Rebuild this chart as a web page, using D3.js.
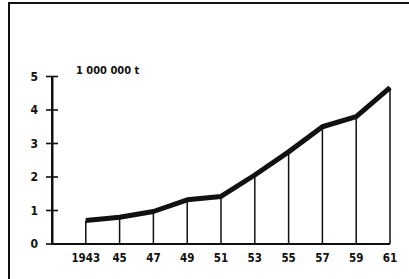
<!DOCTYPE html>
<html>
<head>
<meta charset="utf-8">
<script src="https://cdn.jsdelivr.net/npm/d3@7"></script>
<style>
  body { margin: 0; background: #fff; }
  svg { display: block; }
  text { font-family: "DejaVu Sans Condensed", "Liberation Sans Narrow", sans-serif; font-weight: bold; fill: #111; }
</style>
</head>
<body>
<div class="chart"></div>
<script>
const years = [1943, 1945, 1947, 1949, 1951, 1953, 1955, 1957, 1959, 1961];
const values = [0.7, 0.8, 0.97, 1.32, 1.42, 2.06, 2.75, 3.5, 3.8, 4.67];
const yTicks = [0, 1, 2, 3, 4, 5];
const xLabels = ["1943", "45", "47", "49", "51", "53", "55", "57", "59", "61"];
const unitLabel = "1 000 000 t";

const width = 409;
const height = 279;
const ink = "#111";

const svg = d3.select(".chart")
    .append("svg")
    .attr("width", width)
    .attr("height", height);

// frame (top and left edges of the scanned box)
svg.append("path")
    .attr("d", "M9,279 V3 H409")
    .attr("fill", "none")
    .attr("stroke", ink)
    .attr("stroke-width", 2);

const x = d3.scaleLinear().domain([1941, 1961]).range([52, 390]);
const y = d3.scaleLinear().domain([0, 5]).range([244, 76.5]);
const x0 = x(1941);

// axes drawn by hand so the ticks can cross the y line
svg.append("rect")
    .attr("x", x0 - 1).attr("y", y(0) - 1)
    .attr("width", x(1961) - x0 + 1).attr("height", 2)
    .attr("fill", ink);

svg.append("rect")
    .attr("x", x0 - 1).attr("y", y(5))
    .attr("width", 2.5).attr("height", y(0) - y(5))
    .attr("fill", ink);

svg.append("g").selectAll("rect")
    .data(yTicks)
    .join("rect")
    .attr("x", x0 - 6).attr("y", d => y(d) - 0.8)
    .attr("width", 12).attr("height", 1.6)
    .attr("fill", ink);

svg.append("g").selectAll("text")
    .data(yTicks)
    .join("text")
    .attr("x", x0 - 14)
    .attr("y", d => y(d))
    .attr("dy", "0.36em")
    .attr("text-anchor", "end")
    .style("font-size", "12px")
    .text(d => d);

// x labels
svg.append("g").selectAll("text")
    .data(years)
    .join("text")
    .attr("x", d => x(d))
    .attr("y", 262)
    .attr("text-anchor", "middle")
    .style("font-size", "11.5px")
    .text((d, i) => xLabels[i]);

// drop lines
svg.append("g").selectAll("line")
    .data(years)
    .join("line")
    .attr("x1", d => x(d)).attr("x2", d => x(d))
    .attr("y1", (d, i) => y(values[i])).attr("y2", y(0))
    .attr("stroke", ink).attr("stroke-width", 1.5);

// main line
const line = d3.line().x(d => x(d[0])).y(d => y(d[1]));
svg.append("path")
    .datum(years.map((d, i) => [d, values[i]]))
    .attr("d", line)
    .attr("fill", "none")
    .attr("stroke", ink)
    .attr("stroke-width", 5)
    .attr("stroke-linejoin", "round");

svg.append("text")
    .attr("x", 76)
    .attr("y", 74)
    .style("font-size", "11px")
    .text(unitLabel);
</script>
</body>
</html>
